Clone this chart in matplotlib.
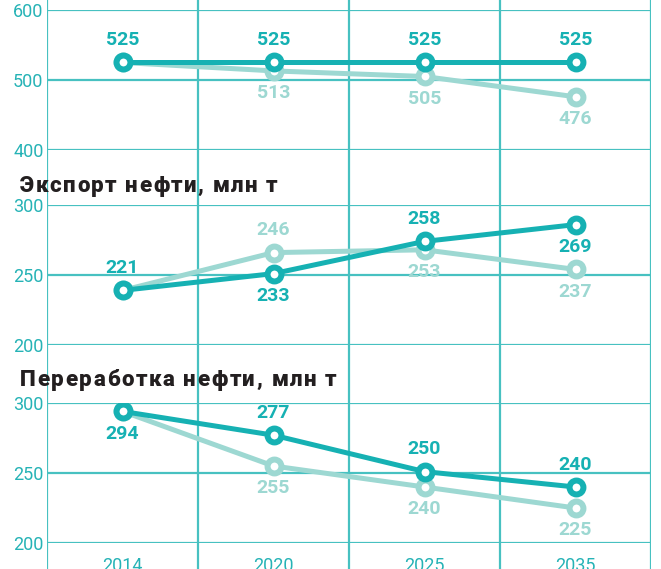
import matplotlib
matplotlib.use('Agg')
import matplotlib.pyplot as plt
from matplotlib.font_manager import FontProperties
import numpy as np

plt.rcParams['font.family'] = ['Roboto', 'DejaVu Sans']

years = ['2014', '2020', '2025', '2035']

# panel 1 (its title is cut off above the picture)
prod_dark = [525, 525, 525, 525]
prod_light = [525, 513, 505, 476]
prod_dark_lbl = ['525', '525', '525', '525']
prod_light_lbl = ['', '513', '505', '476']

# panel 2: Экспорт нефти (points drawn where they sit in the picture)
exp_dark = [239, 251, 274, 286]
exp_light = [239, 266, 268, 254]
exp_dark_lbl = ['221', '233', '258', '269']
exp_light_lbl = ['', '246', '253', '237']

# panel 3: Переработка нефти
ref_dark = [294, 277, 251, 240]
ref_light = [294, 255, 240, 225]
ref_dark_lbl = ['294', '277', '250', '240']
ref_light_lbl = ['', '255', '240', '225']

DARK = '#16b1b3'
LIGHT = '#9dd8d2'
GRID = '#47c1c1'
TXT = '#26b3b6'

W, H = 661, 569
fig = plt.figure(figsize=(W / 100, H / 100), dpi=100)

left = 47 / W
width = 604 / W

# background axes for the vertical lines running through the whole figure
bg = fig.add_axes([left, 0, width, 1])
bg.set_xlim(-0.5, 3.5)
bg.set_ylim(0, 1)
bg.axis('off')
for xv in np.arange(-0.5, 4.0, 1.0):
    bg.axvline(xv, color=GRID, lw=1.6, zorder=0)


def px_box(top, bottom):
    return [left, 1 - bottom / H, width, (bottom - top) / H]


def spaced_title(s, x0, baseline, spacing, size):
    # letter-spaced text, one glyph at a time
    renderer = fig.canvas.get_renderer()
    prop = FontProperties(family='Roboto', weight='heavy', size=size)
    bar_w = renderer.get_text_width_height_descent('|', prop, ismath=False)[0]
    for i, ch in enumerate(s):
        if ch == ' ':
            continue
        pos = renderer.get_text_width_height_descent(s[:i] + '|', prop, ismath=False)[0] - bar_w
        fig.text((x0 + pos + i * spacing) / W, 1 - baseline / H, ch,
                 fontproperties=prop, color='#231f20', ha='left', va='baseline')


def panel(box, ylim, ticks, dark, light, dlbl, llbl, dpos, lpos):
    ax = fig.add_axes(box)
    ax.patch.set_alpha(0)
    ax.set_xlim(-0.5, 3.5)
    ax.set_ylim(*ylim)
    ax.set_yticks(ticks)
    ax.set_yticklabels([str(t) for t in ticks])
    ax.set_xticks([])
    for s in ax.spines.values():
        s.set_visible(False)
    ax.tick_params(axis='y', length=0, pad=2.5, labelsize=13, labelcolor=TXT)
    for t in ticks:
        ax.axhline(t, color=GRID, lw=1.6, zorder=1)
    x = np.arange(len(years))
    ax.plot(x, light, color=LIGHT, lw=3.6, marker='o', ms=10, mew=4.3,
            mfc='white', mec=LIGHT, zorder=3, solid_capstyle='round')
    ax.plot(x, dark, color=DARK, lw=3.6, marker='o', ms=10, mew=4.3,
            mfc='white', mec=DARK, zorder=4, solid_capstyle='round')
    for i in range(len(years)):
        if dlbl[i]:
            ax.annotate(dlbl[i], (x[i], dark[i]), xytext=(0, 16 * dpos[i]),
                        textcoords='offset points', ha='center', va='center',
                        fontsize=14, fontweight='bold', color=DARK, zorder=5)
        if llbl[i]:
            ax.annotate(llbl[i], (x[i], light[i]), xytext=(0, 16 * lpos[i]),
                        textcoords='offset points', ha='center', va='center',
                        fontsize=14, fontweight='bold', color=LIGHT, zorder=5)
    return ax


panel(px_box(10, 150), (400, 600), [400, 500, 600], prod_dark, prod_light,
      prod_dark_lbl, prod_light_lbl, [1, 1, 1, 1], [0, -1, -1, -1])

panel(px_box(205, 345), (200, 300), [200, 250, 300], exp_dark, exp_light,
      exp_dark_lbl, exp_light_lbl, [1, -1, 1, -1], [0, 1, -1, -1])
spaced_title('Экспорт нефти, млн т', 20, 192, 1.5, 16)

ax3 = panel(px_box(403, 543), (200, 300), [200, 250, 300], ref_dark, ref_light,
            ref_dark_lbl, ref_light_lbl, [-1, 1, 1, 1], [0, -1, -1, -1])
spaced_title('Переработка нефти, млн т', 20, 386, 1.6, 16)
ax3.set_xticks(np.arange(len(years)))
ax3.set_xticklabels(years)
ax3.tick_params(axis='x', length=0, pad=10, labelsize=13, labelcolor=TXT)

fig.savefig('out.png', dpi=100)
